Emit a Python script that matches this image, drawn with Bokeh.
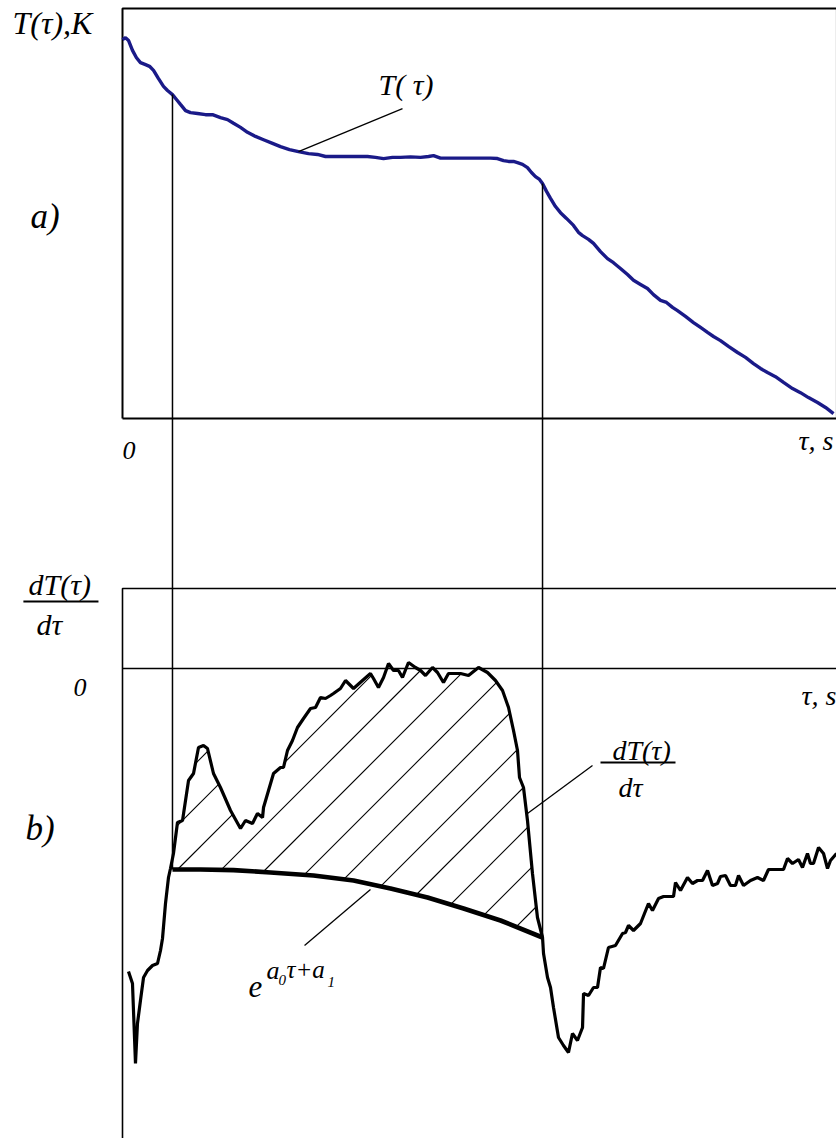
import numpy as np
from bokeh.plotting import figure
from bokeh.models import Range1d, Label
from bokeh.embed import file_html
from bokeh.resources import INLINE

# ---------------- data ----------------
# panel a: temperature curve T(tau)
TAU_A = [0.0, 0.42, 0.84, 1.40, 1.96, 2.52, 3.23, 3.79, 4.35, 5.05, 5.75, 6.31, 7.01, 7.57, 8.13,
         8.84, 9.54, 10.52, 11.64, 12.62, 13.74, 14.73, 15.57, 16.55, 17.53, 18.65, 19.78, 21.04,
         22.16, 23.42, 24.68, 26.09, 27.35, 28.47, 29.59, 31.28, 32.96, 34.36, 35.48, 36.61, 37.87,
         38.99, 40.39, 41.80, 42.92, 43.62, 44.60, 46.0, 47.41, 48.81, 50.21, 51.61, 52.59, 53.44,
         54.14, 54.84, 55.40, 56.10, 56.80, 57.36, 57.92, 58.49, 58.91, 59.47, 60.03, 60.73, 61.43,
         62.27, 63.25, 63.95, 64.52, 65.36, 66.06, 67.04, 68.02, 68.86, 69.84, 70.83, 71.67, 72.65,
         73.63, 74.47, 75.46, 76.30, 77.14, 77.84, 78.96, 80.08, 81.07, 82.05, 82.89, 83.87, 84.99,
         86.26, 87.38, 88.50, 89.48, 90.46, 91.58, 92.71, 93.97, 95.09, 96.21, 97.48, 98.60, 99.72]
T_A = [92.4, 92.9, 92.2, 89.8, 88.0, 86.8, 86.3, 85.9, 84.9, 82.9, 81.0, 80.0, 79.0, 77.8, 76.6,
       75.1, 74.6, 74.4, 74.1, 74.1, 73.4, 72.9, 72.0, 71.0, 69.8, 68.8, 68.0, 67.1,
       66.3, 65.6, 65.1, 64.6, 64.4, 63.9, 63.9, 63.9, 63.9, 63.9, 63.7, 63.4, 63.7,
       63.7, 63.8, 63.7, 63.9, 64.1, 63.5, 63.5, 63.5, 63.5, 63.5, 63.5, 63.4, 62.9,
       62.7, 62.7, 62.4, 62.0, 61.2, 60.0, 59.0, 58.3, 57.3, 55.4, 53.7, 51.7, 50.2,
       48.8, 47.1, 45.4, 44.6, 43.7, 42.7, 40.7, 39.0, 38.0, 36.6, 35.1, 33.7, 32.7,
       31.7, 30.2, 28.8, 28.3, 27.1, 26.3, 24.9, 23.4, 22.2, 21.0, 20.0, 19.0, 17.6,
       16.1, 14.9, 13.4, 12.2, 11.2, 10.2, 8.8, 7.3, 6.3, 5.1, 3.9, 2.7, 1.2]

# panel b: derivative dT/dtau
TAU_B = [0.84, 1.40, 1.82, 2.10, 2.52, 2.95, 3.51, 4.21, 4.91, 5.33, 5.61, 6.03, 6.45, 6.73, 7.15,
         7.71, 8.42, 9.26, 9.96, 10.66, 11.36, 11.92, 12.76, 13.74, 15.15, 16.55, 17.25, 18.23,
         18.93, 19.64, 19.78, 20.48, 21.18, 22.16, 22.58, 23.14, 23.84, 24.54, 25.39, 26.37, 27.07,
         27.77, 28.47, 29.17, 29.59, 30.57, 31.28, 32.40, 33.66, 34.78, 35.20, 35.90, 36.61, 37.31,
         38.01, 38.71, 39.27, 40.11, 41.09, 41.80, 42.50, 43.48, 44.18, 45.02, 45.72, 47.41, 48.53,
         49.93, 51.19, 52.31, 53.30, 54.14, 54.84, 55.40, 55.68, 56.24, 56.80, 57.50, 58.20, 58.91,
         59.05, 59.61, 60.03, 60.45, 61.15, 61.85, 62.55, 63.11, 63.81, 64.52, 64.66, 65.36, 66.06,
         66.62, 67.04, 67.46, 68.16, 69.14, 70.13, 70.55, 70.97, 71.67, 72.65, 73.77, 74.33, 75.18,
         75.88, 77.28, 77.56, 78.26, 79.24, 79.94, 80.65, 81.35, 82.05, 82.75, 83.45, 83.87, 84.57,
         85.27, 85.97, 86.40, 87.10, 88.08, 89.06, 89.90, 90.60, 92.71, 93.27, 93.97, 94.81, 95.37,
         96.07, 96.49, 96.91, 97.62, 98.32, 98.88, 99.30, 100.14]
DT_B = [-75.75, -78.75, -98.75, -88.75, -83.0, -77.25, -75.5, -74.25, -73.75, -70.5, -67.5, -58.75,
        -52.25, -50.0, -46.25, -38.5, -38.0, -28.0, -26.25, -19.75, -19.25, -20.0, -26.25, -29.75,
        -35.5, -40.0, -38.0, -38.75, -36.25, -37.25, -34.75, -30.5, -26.25, -24.75, -24.75, -20.5,
        -18.0, -14.75, -12.5, -10.0, -9.75, -7.25, -7.5, -6.75, -6.25, -5.0, -3.0, -5.0, -3.0,
        -1.25, -2.5, -4.75, -2.25, 1.25, -0.5, -0.5, -2.25, 1.5, 0.25, -0.5, -1.75, 0.25, -1.0,
        -3.5, -1.25, -1.25, -1.75, 0.25, -1.0, -3.0, -5.5, -9.75, -15.5, -20.5, -27.25, -29.75,
        -38.0, -51.25, -62.25, -67.25, -71.25, -77.25, -79.75, -84.75, -92.25, -94.25, -96.0,
        -91.25, -93.0, -89.75, -81.25, -81.75, -79.75, -79.75, -74.75, -75.0, -69.75, -69.25,
        -66.25, -66.0, -64.25, -65.5, -63.75, -58.75, -60.5, -57.5, -57.0, -57.0, -53.5, -55.5,
        -52.25, -53.75, -53.0, -53.0, -50.5, -54.25, -53.75, -52.0, -51.75, -54.25, -54.25,
        -51.75, -54.25, -53.0, -52.25, -53.0, -50.25, -50.25, -47.5, -48.75, -47.75, -49.75,
        -46.25, -48.75, -48.75, -44.75, -46.25, -50.0, -48.0, -46.25]

# exponential fit e^(a0*tau + a1) between the two marks
TAU_FIT = [7.01, 10.94, 15.57, 20.76, 26.79, 32.40, 37.59, 42.78, 47.83, 53.02, 58.91]
FIT = [-50.25, -50.25, -50.4, -51.0, -51.75, -53.0, -55.0, -57.25, -60.0, -63.0, -67.25]

MARK_TAU = [7.01, 58.91]          # the two vertical marks
T_MAX, D_TOP = 100, 20            # panel limits

# ---------------- layout ----------------
W, H = 836, 1138
PX0, PX_PER_TAU = 122, 7.13        # tau = 0 at x = 122 px
PY_A0, PX_PER_T = 418, 4.1         # panel a base line (px from top)
PY_B0, PX_PER_D = 668, 4.0         # panel b zero line (px from top)
HATCH_GAP, HATCH_PHASE = 44.0, -432.0

def a_to_b(t):
    py = PY_A0 - t * PX_PER_T
    return (PY_B0 - py) / PX_PER_D

p = figure(width=W, height=H, output_backend="svg", toolbar_location=None,
           x_range=Range1d(-PX0 / PX_PER_TAU, (W - PX0) / PX_PER_TAU),
           y_range=Range1d((PY_A0 - H) / PX_PER_T, PY_A0 / PX_PER_T),
           x_axis_location=None, y_axis_location=None, min_border=0)
p.extra_y_ranges = {"b": Range1d((PY_B0 - H) / PX_PER_D, PY_B0 / PX_PER_D)}
p.grid.visible = False
p.outline_line_color = None
p.background_fill_color = "white"
p.border_fill_color = "white"

B_BOTTOM = (PY_B0 - H) / PX_PER_D
TAU_RIGHT = 100.2

# ---- panel a box ----
p.line([0, 0, TAU_RIGHT, TAU_RIGHT, 0], [0, T_MAX, T_MAX, 0, 0], line_color="black", line_width=2)
p.line(TAU_A, T_A, line_color="#1a1a88", line_width=3.4)

# ---- panel b frame ----
p.line([TAU_RIGHT + 1, 0, 0], [D_TOP, D_TOP, B_BOTTOM], y_range_name="b", line_color="black", line_width=1.6)
p.line([0, TAU_RIGHT + 1], [0, 0], y_range_name="b", line_color="black", line_width=1.6)

# ---- hatching of the area between dT/dtau and the exponential fit (45 deg on screen) ----
tb = np.array(TAU_B)
db = np.array(DT_B)
sel = (tb >= MARK_TAU[0] - 0.3) & (tb <= MARK_TAU[1])
poly_x = np.concatenate([tb[sel], TAU_FIT[::-1]]) * PX_PER_TAU
poly_y = np.concatenate([db[sel], FIT[::-1]]) * PX_PER_D
g = poly_y - poly_x
hx, hy = [], []
n_lo = int(np.floor((g.min() - HATCH_PHASE) / HATCH_GAP))
n_hi = int(np.ceil((g.max() - HATCH_PHASE) / HATCH_GAP))
for n in range(n_lo, n_hi + 1):
    c = HATCH_PHASE + n * HATCH_GAP
    f = g - c
    xs = []
    for i in range(len(f)):
        j = (i + 1) % len(f)
        if f[i] * f[j] < 0:
            t = f[i] / (f[i] - f[j])
            xs.append(poly_x[i] + t * (poly_x[j] - poly_x[i]))
    xs.sort()
    for k in range(0, len(xs) - 1, 2):
        xa, xb = xs[k], xs[k + 1]
        if xb - xa < 2:
            continue
        hx.append([xa / PX_PER_TAU, xb / PX_PER_TAU])
        hy.append([(xa + c) / PX_PER_D, (xb + c) / PX_PER_D])
p.multi_line(hx, hy, y_range_name="b", line_color="black", line_width=1.1)

# vertical marks
for m in MARK_TAU:
    top = a_to_b(np.interp(m, TAU_A, T_A))
    bot = float(np.interp(m, TAU_FIT, FIT))
    p.line([m, m], [top, bot], y_range_name="b", line_color="black", line_width=1.5)

p.line(TAU_B, DT_B, y_range_name="b", line_color="black", line_width=3.2)
p.line(TAU_FIT, FIT, y_range_name="b", line_color="black", line_width=4.6)

# leader lines
p.line([39.27, 24.68], [75.6, 65.1], line_color="black", line_width=1.3)
p.line([65.92, 56.80], [-24.25, -36.25], y_range_name="b", line_color="black", line_width=1.3)
p.line([25.53, 34.78], [-69.25, -55.25], y_range_name="b", line_color="black", line_width=1.3)
# fraction bars
p.line([-13.9, -3.37], [16.75, 16.75], y_range_name="b", line_color="black", line_width=1.8)
p.line([67.04, 77.56], [-23.5, -23.5], y_range_name="b", line_color="black", line_width=1.8)

FONT = "Liberation Serif"

def lab(x, y, t, size, rng="default", align="left"):
    p.add_layout(Label(x=x, y=y, text=t, y_range_name=rng, text_font=FONT,
                       text_font_style="italic", text_font_size=f"{size}px",
                       text_color="black", text_align=align, text_baseline="alphabetic",
                       y_offset=round(0.3 * size)))

lab(-15.43, 94.1, "T(τ),K", 32)
lab(-12.9, 46.8, "a)", 35)
lab(0.0, -9.76, "0", 26)
lab(99.7, -7.3, "τ, s", 28, align="right")
lab(35.9, 79.3, "T( τ)", 30)

lab(-13.18, 18.75, "dT(τ)", 30, "b")
lab(-12.06, 8.75, "dτ", 30, "b")
lab(-6.87, -6.75, "0", 26, "b")
lab(-13.6, -42.5, "b)", 35, "b")
lab(100.14, -8.75, "τ, s", 28, "b", align="right")
lab(68.72, -22.5, "dT(τ)", 28, "b")
lab(69.57, -31.75, "dτ", 28, "b")

lab(17.67, -81.75, "e", 31, "b")
lab(20.2, -77.5, "a", 26, "b")
lab(21.88, -78.75, "0", 15, "b")
lab(23.0, -77.25, "τ+a", 25, "b")
lab(28.75, -79.25, "1", 15, "b")

open("out.html", "w").write(file_html(p, INLINE))
